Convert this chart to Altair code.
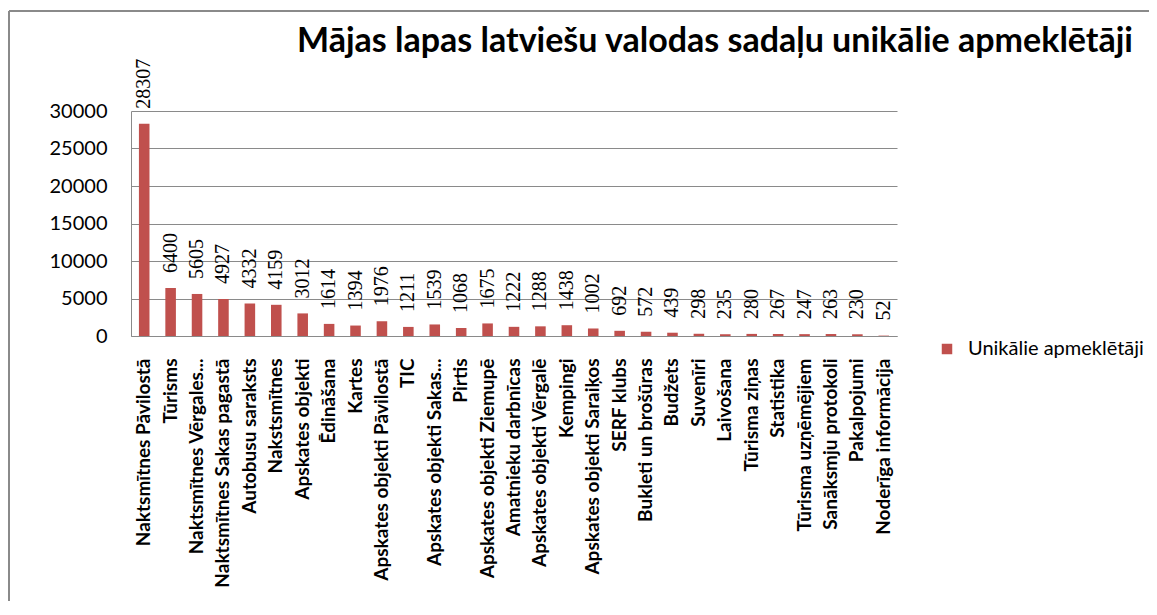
import altair as alt
import pandas as pd

categories = [
    "Naktsmītnes Pāvilostā", "Tūrisms", "Naktsmītnes Vērgales...", "Naktsmītnes Sakas pagastā",
    "Autobusu saraksts", "Nakstsmītnes", "Apskates objekti", "Ēdināšana", "Kartes",
    "Apskates objekti Pāvilostā", "TIC", "Apskates objekti Sakas...", "Pirtis",
    "Apskates objekti Ziemupē", "Amatnieku darbnīcas", "Apskates objekti Vērgalē", "Kempingi",
    "Apskates objekti Saraiķos", "SERF klubs", "Bukleti un brošūras", "Budžets", "Suvenīri",
    "Laivošana", "Tūrisma ziņas", "Statistika", "Tūrisma uzņēmējiem", "Sanāksmju protokoli",
    "Pakalpojumi", "Noderīga informācija",
]
values = [
    28307, 6400, 5605, 4927, 4332, 4159, 3012, 1614, 1394, 1976, 1211, 1539, 1068, 1675, 1222,
    1288, 1438, 1002, 692, 572, 439, 298, 235, 280, 267, 247, 263, 230, 52,
]
series_name = "Unikālie apmeklētāji"
title_text = "Mājas lapas latviešu valodas sadaļu unikālie apmeklētāji"
y_ticks = [0, 5000, 10000, 15000, 20000, 25000, 30000]

df = pd.DataFrame({"cat": categories, "val": values, "series": [series_name] * len(values)})

GRAY = "#8a8a8a"
BAR = "#C0504D"

x_enc = alt.X("cat:N", sort=None,
              scale=alt.Scale(paddingInner=0.6, paddingOuter=0.3),
              axis=alt.Axis(title=None, labelAngle=-90, labelFont="Lato", labelFontWeight="bold",
                            labelFontSize=19, labelColor="#000000", labelPadding=22,
                            ticks=False, domainColor=GRAY, grid=False, labelLimit=400,
                            labelOverlap=False))
y_enc = alt.Y("val:Q", scale=alt.Scale(domain=[0, 30000], nice=False),
              axis=alt.Axis(title=None, values=y_ticks, labelFont="Lato", labelFontSize=20,
                            labelColor="#000000", labelPadding=24, ticks=False,
                            domainColor=GRAY, gridColor=GRAY, grid=True, format="d",
                            labelOverlap=False))

bars = alt.Chart(df).mark_bar(color=BAR).encode(
    x=x_enc, y=y_enc,
    color=alt.Color("series:N", scale=alt.Scale(range=[BAR]),
                    legend=alt.Legend(title=None, orient="none", legendX=806, legendY=228,
                                      symbolType="square", symbolSize=110, symbolStrokeWidth=0,
                                      labelFont="Lato", labelFontSize=20, labelColor="#000000",
                                      labelOffset=11, labelLimit=300)),
)

labels = alt.Chart(df).mark_text(angle=270, align="left", baseline="middle", dx=15,
                                 font="Liberation Serif", fontSize=20, color="#000000").encode(
    x=x_enc, y=y_enc, text="val:Q")

frame_df = pd.DataFrame({"k": [0]})
left_line = alt.Chart(frame_df).mark_rule(color=GRAY, strokeWidth=2).encode(
    x=alt.value(-122), y=alt.value(-100), y2=alt.value(600))
top_line = alt.Chart(frame_df).mark_rule(color=GRAY, strokeWidth=2).encode(
    x=alt.value(-122), x2=alt.value(1100), y=alt.value(-100))

chart = alt.layer(bars, labels, left_line, top_line).properties(
    width=766, height=225,
    title=alt.TitleParams(title_text, font="Lato", fontSize=34, fontWeight="bold",
                          color="#000000", anchor="middle", dx=201, offset=0, dy=49),
    autosize=alt.AutoSizeParams(type="none"),
    padding={"left": 123, "top": 103, "right": 252, "bottom": 265},
).configure_view(stroke=None)

chart.save("out.html", embed_options={"renderer": "svg", "actions": False})
